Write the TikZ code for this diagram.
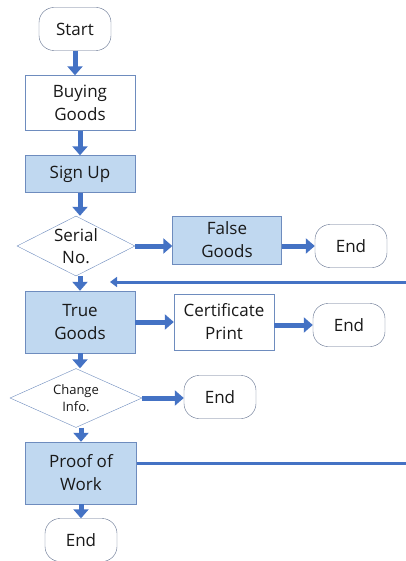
\documentclass[tikz,border=0pt]{standalone}
\usepackage{fontspec}
\setmainfont{Open Sans}
\usetikzlibrary{shapes.geometric,arrows.meta,positioning}

\definecolor{flowblue}{RGB}{68,114,196}
\definecolor{boxfill}{RGB}{192,216,240}
\definecolor{boxline}{RGB}{110,140,190}
\definecolor{termline}{RGB}{95,110,140}
\definecolor{txt}{RGB}{25,25,25}

\tikzset{
  terminal/.style={draw=termline, fill=white, rounded corners=15pt, minimum width=72pt, minimum height=43pt, text=txt, font=\fontsize{17}{23}\selectfont},
  process/.style={draw=boxline, fill=white, align=center, text=txt, font=\fontsize{17}{23}\selectfont},
  shaded/.style={process, fill=boxfill},
  decision/.style={diamond, draw=boxline, fill=white, inner sep=-8pt, align=center, text=txt},
  flow/.style={draw=flowblue, line width=5pt, -{Triangle[length=9pt,width=15pt]}},
  back/.style={draw=flowblue, line width=3pt, -{Triangle[length=7pt,width=10pt]}}
}

\begin{document}
\begin{tikzpicture}[x=1pt,y=1pt,yscale=-1]
\useasboundingbox (0,0) rectangle (405,561);

% main column
\node[terminal] (start) at (75,29) {Start};
\node[process, minimum width=110pt, minimum height=55pt] (buy) at (80,103) {Buying\\Goods};
\node[shaded, minimum width=110pt, minimum height=37pt] (sign) at (80,174) {Sign Up};
\node[decision, minimum width=118pt, minimum height=60pt, font=\fontsize{17}{22}\selectfont] (serial) at (76,246) {Serial\\No.};
\node[shaded, minimum width=110pt, minimum height=62pt] (true) at (80,322) {True\\Goods};
\node[decision, minimum width=132pt, minimum height=59pt, font=\fontsize{13}{17}\selectfont] (change) at (76,398) {Change\\Info.};
\node[shaded, minimum width=111pt, minimum height=62pt] (pow) at (81,473) {Proof of\\Work};
\node[terminal] (end4) at (81,540) {End};

% side branches
\node[shaded, minimum width=109pt, minimum height=48pt] (false) at (227,240) {False\\Goods};
\node[terminal] (end1) at (351,246) {End};
\node[process, minimum width=100pt, minimum height=56pt] (cert) at (224,322) {Certificate\\Print};
\node[terminal] (end2) at (349,325) {End};
\node[terminal] (end3) at (220,397) {End};

% loop back
\coordinate (loopT) at (412,282);
\coordinate (loopEnd) at (110,282);

% connectors
\draw[flow] (start.south) -- (start.south |- buy.north);
\draw[flow] (buy.south) -- (sign.north);
\draw[flow] (sign.south) -- (sign.south |- serial.north);
\draw[flow] (serial.east) -- (serial.east -| false.west);
\draw[flow] (false.east |- end1.west) -- (end1.west);
\draw[flow] (true.south |- serial.south) -- (true.north);
\draw[flow] (true.east) -- (cert.west);
\draw[flow] (cert.east |- end2.west) -- (end2.west);
\draw[flow] (true.south) -- (true.south |- change.north);
\draw[flow] (change.east) -- (change.east -| end3.west);
\draw[flow] (pow.north |- change.south) -- (pow.north);
\draw[flow] (pow.south) -- (end4.north);
\draw[back] ([yshift=-10pt]pow.east) -| (loopT) -- (loopEnd);

\end{tikzpicture}
\end{document}
